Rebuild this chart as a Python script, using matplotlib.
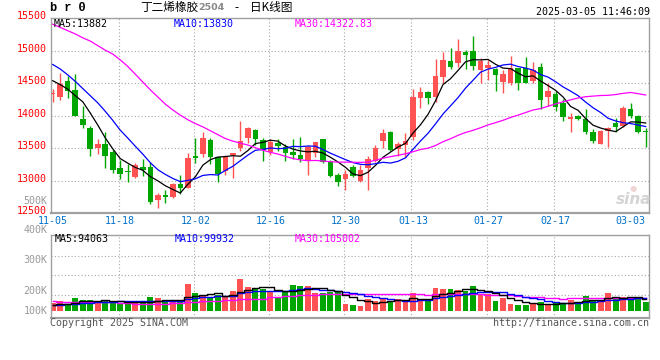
import numpy as np
import pandas as pd
import matplotlib
matplotlib.use("Agg")
import matplotlib.pyplot as plt
from matplotlib.transforms import blended_transform_factory, offset_copy

# ---------------- data ----------------
holidays = ["2025-01-01", "2025-01-28", "2025-01-29", "2025-01-30",
            "2025-01-31", "2025-02-03", "2025-02-04"]
dates = pd.bdate_range("2024-11-05", "2025-03-05")
dates = dates[~dates.isin(pd.to_datetime(holidays))]

opens = [14340, 14295, 14540, 14400, 13950, 13820, 13505, 13562, 13449, 13203,
         13156, 13059, 13218, 13213, 12705, 12782, 12756, 12951, 12895, 13387,
         13408, 13628, 13362, 13151, 13397, 13500, 13654, 13782, 13628, 13440,
         13575, 13525, 13440, 13400, 13305, 13425, 13640, 13295, 13090, 13028,
         13215, 12990, 13190, 13305, 13610, 13745, 13485, 13550, 13670, 14280,
         14370, 14295, 14603, 14844, 14818, 14987, 14997, 14705, 14741, 14715,
         14525, 14499, 14740, 14730, 14540, 14755, 14294, 14335, 14202, 13946,
         13997, 13951, 13746, 13566, 13766, 13884, 13843, 14100, 13997, 13766]
highs = [14410, 14660, 14620, 14640, 14150, 13850, 13645, 13746, 13474, 13320,
         13254, 13269, 13336, 13295, 12808, 12859, 12962, 13090, 13423, 13654,
         13756, 13654, 13372, 13397, 13433, 13920, 13823, 13797, 13654, 13650,
         13640, 13565, 13640, 13680, 13550, 13600, 13645, 13320, 13115, 13170,
         13240, 13245, 13385, 13550, 13800, 13765, 13600, 13730, 14420, 14450,
         14385, 14870, 14977, 15038, 15182, 15013, 15228, 14895, 14859, 14731,
         14704, 14919, 14740, 14899, 14822, 14807, 14499, 14381, 14253, 14048,
         14012, 14105, 13797, 13782, 13833, 13961, 14151, 14202, 14012, 13807]
lows = [14220, 14245, 14280, 13990, 13820, 13380, 13415, 13200, 13115, 13023,
        12987, 13049, 13074, 12649, 12577, 12654, 12731, 12797, 12885, 13279,
        13372, 13254, 12977, 13090, 13038, 13464, 13577, 13551, 13310, 13400,
        13465, 13300, 13330, 13295, 13090, 13370, 13280, 13060, 12925, 12860,
        13065, 12985, 12865, 13285, 13500, 13465, 13375, 13360, 13630, 14125,
        14180, 14215, 14500, 14715, 14756, 14715, 14705, 14500, 14551, 14382,
        14345, 14473, 14397, 14499, 14499, 14105, 14150, 14074, 13925, 13746,
        13935, 13720, 13577, 13566, 13515, 13746, 13823, 13970, 13740, 13525]
closes = [14345, 14495, 14380, 14000, 13860, 13485, 13570, 13387, 13162, 13105,
          13136, 13238, 13167, 12679, 12782, 12756, 12951, 12895, 13346, 13356,
          13654, 13372, 13100, 13382, 13423, 13613, 13808, 13638, 13474, 13590,
          13540, 13435, 13400, 13335, 13515, 13590, 13295, 13075, 12977, 13100,
          13080, 13165, 13335, 13500, 13730, 13475, 13560, 13610, 14295, 14370,
          14270, 14610, 14859, 14746, 15003, 14936, 14772, 14844, 14782, 14628,
          14643, 14730, 14499, 14499, 14704, 14243, 14381, 14130, 13987, 13977,
          13946, 13746, 13618, 13771, 13817, 13833, 14115, 13997, 13756, 13746]
volumes = [65800, 76400, 57900, 100100, 86900, 86900, 68500, 86900, 79000, 60600,
           60600, 79000, 60600, 113200, 100100, 79000, 79000, 79000, 215900, 144800,
           121100, 105300, 126400, 113200, 158000, 252800, 189600, 179000, 173800, 158000,
           113200, 147400, 205400, 197500, 197500, 144800, 144800, 152700, 147400, 55300,
           47400, 39500, 94800, 81600, 92200, 81600, 94800, 81600, 144800, 86900,
           81600, 184300, 173800, 173800, 165900, 158000, 197500, 131700, 131700, 81600,
           105300, 57900, 47400, 47400, 52700, 68500, 52700, 68500, 57900, 86900,
           73700, 118500, 86900, 86900, 142200, 100100, 110600, 100100, 100100, 73700]

# moving-average values for days whose window starts before 11-05
ma5_head = [14540, 14480, 14410, 14310]
ma10_head = [14790, 14720, 14630, 14530, 14420, 14310, 14200, 14070, 13930]
ma30_head = [15410, 15360, 15310, 15260, 15200, 15150, 15080, 15010, 14950, 14860,
             14760, 14640, 14520, 14400, 14290, 14180, 14090, 14010, 13940, 13880,
             13830, 13770, 13710, 13650, 13610, 13580, 13550, 13510, 13470]
vma5_head = [47400, 52700, 57900, 63200]
vma10_head = [44800, 50000, 55300, 55300, 63200, 65800, 68500, 68500, 71100]
vma30_head = [79000, 73700, 71100, 71100, 68500, 68500, 68500, 68500, 68500, 65800,
              63200, 57900, 55300, 55300, 55300, 57900, 63200, 65800, 71100, 73700,
              76400, 79000, 81600, 84300, 89500, 92200, 92200, 94800, 97400]

label_dates = ["2024-11-05", "2024-11-18", "2024-12-02", "2024-12-16", "2024-12-30",
               "2025-01-13", "2025-01-27", "2025-02-17", "2025-03-03"]
price_ticks = [12500, 13000, 13500, 14000, 14500, 15000, 15500]
price_grid = [13000, 13500, 14000, 14500, 15000]
vol_labels = ["500K", "400K", "300K", "200K", "100K"]

title_name = "丁二烯橡胶"
title_code = "2504"
title_kind = "日K线图"
timestamp = "2025-03-05 11:46:09"
legend_price = ["MA5:13882", "MA10:13830", "MA30:14322.83"]
legend_vol = ["MA5:94063", "MA10:99932", "MA30:105002"]

# ---------------- derived ----------------
def moving(vals, n, head):
    s = pd.Series(vals, dtype=float).rolling(n).mean().to_numpy()
    s[:len(head)] = head
    return s

o = np.array(opens, float); h = np.array(highs, float)
l = np.array(lows, float); c = np.array(closes, float)
v = np.array(volumes, float)
n = len(c)
x = np.arange(n)
ma5 = moving(c, 5, ma5_head); ma10 = moving(c, 10, ma10_head); ma30 = moving(c, 30, ma30_head)
vma5 = moving(v, 5, vma5_head); vma10 = moving(v, 10, vma10_head); vma30 = moving(v, 30, vma30_head)
lab_idx = [dates.get_loc(pd.Timestamp(d)) for d in label_dates]
lab_txt = [pd.Timestamp(d).strftime("%m-%d") for d in label_dates]

RED = "#FF5252"
GREEN = "#00A600"
GRID = "#A8A8A8"
FRAME = "#A0A0A0"
MONO = "DejaVu Sans Mono"
FS = 7.2
up = c >= o
cols = np.where(up, RED, GREEN)

# ---------------- figure ----------------
W, H = 660, 360
fig = plt.figure(figsize=(6.6, 3.6), dpi=100)
fig.patch.set_facecolor("white")

def rect(left, top, right, bottom):
    return [left / W, 1 - bottom / H, (right - left) / W, (bottom - top) / H]

def fy(py):
    return 1 - py / H

axp = fig.add_axes(rect(50.7, 18.3, 649.3, 213.3))
axv = fig.add_axes(rect(50.7, 234.7, 649.3, 318.3))

step = 7.506
x_left = -(52.7 - 50.7) / step
x_right = (649.3 - 52.7) / step
for ax in (axp, axv):
    ax.set_xlim(x_left, x_right)
    ax.set_xticks([]); ax.set_yticks([])
    for s in ax.spines.values():
        s.set_color(FRAME); s.set_linewidth(1.0)
    ax.spines["bottom"].set_linewidth(1.6)
    for i in lab_idx[1:-1]:
        ax.axvline(i - 0.2, color=GRID, lw=0.8, ls=(0, (1, 2)), zorder=0)

axp.set_ylim(12500, 15500)
axv.set_ylim(-57700, 602800)

for g in price_grid:
    axp.axhline(g, color=GRID, lw=0.8, ls=(0, (1, 2)), zorder=0)
for f in (0.749, 0.514, 0.275):
    axv.plot([0, 1], [f, f], transform=axv.transAxes, color=GRID, lw=0.8,
             ls=(0, (1, 2)), zorder=0)

# candles
axp.vlines(x, l, h, colors=cols, lw=1.0, zorder=2)
body_b = np.minimum(o, c)
body_h = np.maximum(np.abs(c - o), 16)
axp.bar(x, body_h, bottom=body_b, width=0.74, color=cols, linewidth=0, zorder=3)

axp.plot(x, ma5, color="black", lw=0.9, zorder=4)
axp.plot(x, ma10, color="#0000FF", lw=0.9, zorder=4)
axp.plot(x, ma30, color="#FF00FF", lw=0.9, zorder=4)

# volume
axv.bar(x, v, width=0.78, color=cols, linewidth=0, zorder=2)
axv.plot(x, vma30, color="#FF00FF", lw=1.0, drawstyle="steps-mid", zorder=3)
axv.plot(x, vma10, color="#0000FF", lw=1.0, drawstyle="steps-mid", zorder=3)
axv.plot(x, vma5, color="black", lw=1.0, drawstyle="steps-mid", zorder=3)

# price tick labels (red, left)
tr = blended_transform_factory(axp.transAxes, axp.transData)
tr = offset_copy(tr, fig=fig, x=-3.5, y=2.0, units="dots")
for p in price_ticks:
    axp.text(0, p, str(p), transform=tr, ha="right", va="center",
             color="#FF0000", fontsize=FS, family=MONO, clip_on=False)

# date labels
trx = blended_transform_factory(axp.transData, fig.transFigure)
for i, t in zip(lab_idx, lab_txt):
    axp.text(i, fy(221.5), t, transform=trx, ha="center", va="center",
             color="#0070C8", fontsize=FS, family=MONO, clip_on=False)

# volume labels (as drawn by the source, grey)
for t, py in zip(vol_labels, [200.7, 230.0, 260.3, 291.0, 310.7]):
    fig.text(47.3 / W, fy(py), t, ha="right", va="center", color="#9A9A9A",
             fontsize=FS, family=MONO)

# header
fig.text(50 / W, fy(8.0), "b r 0", ha="left", va="center", color="black",
         fontsize=8.6, family="Liberation Mono", fontweight="bold")
fig.text(140 / W, fy(7.5), title_name, ha="left", va="center", color="black",
         fontsize=8.4, family=["Noto Sans CJK SC", "DejaVu Sans"])
fig.text(198.5 / W, fy(8.0), title_code, ha="left", va="center", color="#888888",
         fontsize=6.8, family="DejaVu Sans", fontweight="bold")
fig.text(236 / W, fy(7.5), "-", ha="center", va="center", color="black",
         fontsize=8.4, family=["Noto Sans CJK SC", "DejaVu Sans"])
fig.text(250 / W, fy(7.5), title_kind, ha="left", va="center", color="black",
         fontsize=8.4, family=["Noto Sans CJK SC", "DejaVu Sans"])
fig.text(649.5 / W, fy(12.0), timestamp, ha="right", va="center", color="black",
         fontsize=FS, family=MONO)

# legends
for t, xp, col in zip(legend_price, [53.5, 174.0, 295.0], ["black", "#0000FF", "#FF00FF"]):
    fig.text(xp / W, fy(24.0), t, ha="left", va="center", color=col, fontsize=FS, family=MONO)
for t, xp, col in zip(legend_vol, [55.0, 175.0, 295.0], ["black", "#0000FF", "#FF00FF"]):
    fig.text(xp / W, fy(238.5), t, ha="left", va="center", color=col, fontsize=FS, family=MONO)

# footer
fig.text(50 / W, fy(323.5), "Copyright 2025 SINA.COM", ha="left", va="center",
         color="#555555", fontsize=FS, family=MONO)
fig.text(649.3 / W, fy(323.5), "http://finance.sina.com.cn", ha="right", va="center",
         color="#555555", fontsize=FS, family=MONO)

# watermark
fig.text(634 / W, fy(200), "sina", ha="center", va="center", color="#D4D4D4",
         fontsize=11, family="DejaVu Sans", fontstyle="italic", fontweight="bold")
fig.text(633 / W, fy(189), "●", ha="center", va="center", color="#F2D6D6",
         fontsize=6, family="DejaVu Sans")

fig.savefig("out.png", dpi=100)
